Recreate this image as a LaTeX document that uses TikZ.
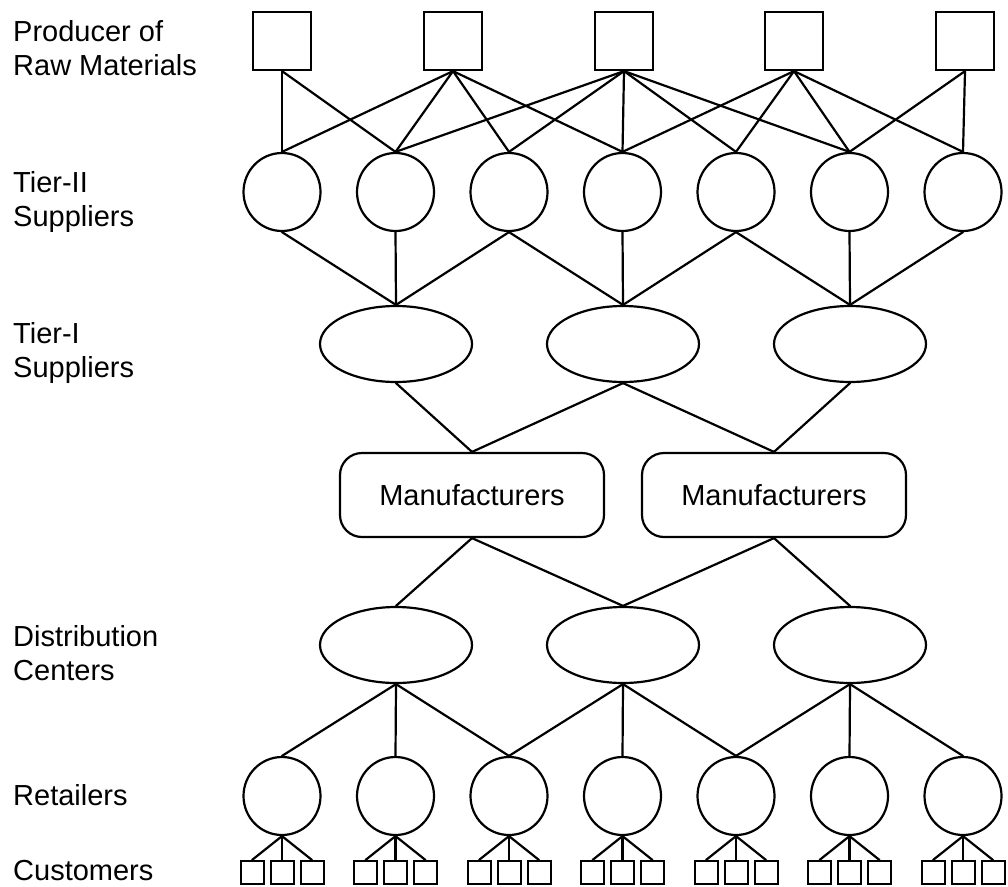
\documentclass[tikz,border=0pt]{standalone}
\usepackage{fontspec}
\setmainfont{Liberation Sans}
\usetikzlibrary{shapes.geometric}
\begin{document}
\begin{tikzpicture}[x=1pt,y=-1pt,
  every node/.style={inner sep=0pt},
  link/.style={line width=2.2pt, line cap=round},
  shp/.style={draw, line width=2.2pt, fill=white},
  producer/.style={shp, rectangle, minimum width=58pt, minimum height=58pt},
  roundnode/.style={shp, ellipse, minimum width=77pt, minimum height=78pt},
  wide/.style={shp, ellipse, minimum width=152pt, minimum height=76pt},
  maker/.style={shp, rectangle, rounded corners=22pt, minimum width=264pt, minimum height=84pt,
    font=\fontsize{29}{34}\selectfont},
  customer/.style={shp, line width=2pt, rectangle, minimum width=23pt, minimum height=23pt},
  tier/.style={anchor=base west, align=left, font=\fontsize{29}{34}\selectfont}
]
\useasboundingbox (0,0) rectangle (1008,886);

% row labels (anchored at the baseline of their last line)
\node[tier] (lp) at (13,75) {Producer of\\Raw Materials};
\node[tier] (ls) at (13,226) {Tier-II\\Suppliers};
\node[tier] (lt) at (13,377) {Tier-I\\Suppliers};
\node[tier] (ld) at (13,680) {Distribution\\Centers};
\node[tier] (lr) at (13,805) {Retailers};
\node[tier] (lc) at (13,880) {Customers};

% producers of raw materials
\foreach \i/\x in {1/282,2/453,3/624,4/794,5/965}
  \node[producer] (p\i) at (\x,41) {};

% tier-II suppliers and retailers share the same columns
\foreach \i/\x in {1/282,2/395.5,3/509,4/622.5,5/736,6/849.5,7/963}{
  \node[roundnode] (s\i) at (\x,192) {};
  \node[roundnode] (r\i) at (\x,796) {};
  \foreach \j/\dx in {1/-30,2/0,3/30}
    \node[customer] (c\i\j) at (\x+\dx,872.5) {};
}

% tier-I suppliers and distribution centers
\foreach \i/\x in {1/396,2/623,3/850}{
  \node[wide] (t\i) at (\x,344) {};
  \node[wide] (d\i) at (\x,645) {};
}

% manufacturers
\node[maker] (m1) at (472,495) {Manufacturers};
\node[maker] (m2) at (774,495) {Manufacturers};

% producers -> tier-II suppliers
\foreach \a/\b in {1/1,1/2, 2/1,2/2,2/3,2/4, 3/2,3/3,3/4,3/5,3/6, 4/4,4/5,4/6,4/7, 5/6,5/7}
  \draw[link] (p\a.south) -- (s\b.north);

% tier-II -> tier-I
\foreach \a/\b in {1/1,2/1,3/1, 3/2,4/2,5/2, 5/3,6/3,7/3}
  \draw[link] (s\a.south) -- (t\b.north);

% tier-I -> manufacturers
\foreach \a/\b in {1/1,2/1,2/2,3/2}
  \draw[link] (t\a.south) -- (m\b.north);

% manufacturers -> distribution centers
\foreach \a/\b in {1/1,1/2,2/2,2/3}
  \draw[link] (m\a.south) -- (d\b.north);

% distribution centers -> retailers
\foreach \a/\b in {1/1,1/2,1/3, 2/3,2/4,2/5, 3/5,3/6,3/7}
  \draw[link] (d\a.south) -- (r\b.north);

% retailers -> customers
\foreach \i in {1,...,7}
  \foreach \j in {1,2,3}
    \draw[link] (r\i.south) -- (c\i\j.north);
\end{tikzpicture}
\end{document}
